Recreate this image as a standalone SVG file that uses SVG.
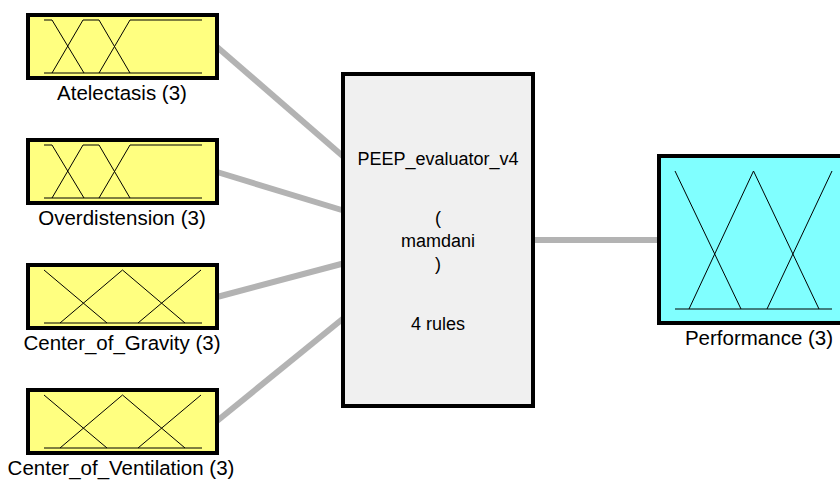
<svg xmlns="http://www.w3.org/2000/svg" width="840" height="480" viewBox="0 0 840 480">
<style>
.in{fill:#ffff80;stroke:#000;stroke-width:4}
.sys{fill:#f0f0f0;stroke:#000;stroke-width:4}
.out{fill:#80ffff;stroke:#000;stroke-width:4}
.mf{fill:none;stroke:#000;stroke-width:1}
.conn{stroke:#b3b3b3;stroke-width:6;fill:none}
.lbl{font-family:"Liberation Sans",Arial,Helvetica,sans-serif;font-size:20.5px;fill:#000;text-anchor:middle}
.sl{font-family:"Liberation Sans",Arial,Helvetica,sans-serif;font-size:18px;fill:#000;text-anchor:middle}
</style>
<rect width="840" height="480" fill="#fff"/>
<g id="connectors">
<line class="conn" x1="217" y1="47" x2="345" y2="158"/>
<line class="conn" x1="217" y1="172" x2="345" y2="211"/>
<line class="conn" x1="217" y1="297" x2="345" y2="263"/>
<line class="conn" x1="217" y1="421" x2="345" y2="317"/>
<line class="conn" x1="533" y1="240" x2="661" y2="240"/>
</g>
<g id="atelectasis">
<rect class="in" x="28" y="15" width="189" height="63"/>
<path class="mf" d="M44,20H52L84,73M52,73L83,20H99L130,73M99,73L130,20H202M44,73H202"/>
<text class="lbl" x="122" y="100">Atelectasis (3)</text>
</g>
<g id="overdistension">
<rect class="in" x="28" y="140" width="189" height="63"/>
<path class="mf" d="M44,145H52L84,198M52,198L83,145H99L130,198M99,198L130,145H202M44,198H202"/>
<text class="lbl" x="122" y="225">Overdistension (3)</text>
</g>
<g id="center_of_gravity">
<rect class="in" x="28" y="265" width="189" height="63"/>
<path class="mf" d="M44,270L107,323M60,323L122.5,270L185,323M138,323L201,270M44,323H202"/>
<text class="lbl" x="122" y="350">Center_of_Gravity (3)</text>
</g>
<g id="center_of_ventilation">
<rect class="in" x="28" y="390" width="189" height="63"/>
<path class="mf" d="M44,395L107,448M60,448L122.5,395L185,448M138,448L201,395M44,448H202"/>
<text class="lbl" x="121" y="475">Center_of_Ventilation (3)</text>
</g>
<g id="peep_evaluator">
<rect class="sys" x="343" y="74" width="190" height="332"/>
<text class="sl" x="438" y="165">PEEP_evaluator_v4</text>
<text class="sl" x="438" y="224">(</text>
<text class="sl" x="438" y="247">mamdani</text>
<text class="sl" x="438" y="270">)</text>
<text class="sl" x="438" y="330">4 rules</text>
</g>
<g id="performance">
<rect class="out" x="659" y="156" width="189" height="167"/>
<path class="mf" d="M675,171L741,309M689,309L753.5,171L819,309M767,309L832,171M675,309H832"/>
<text class="lbl" x="759" y="345">Performance (3)</text>
</g>
</svg>
